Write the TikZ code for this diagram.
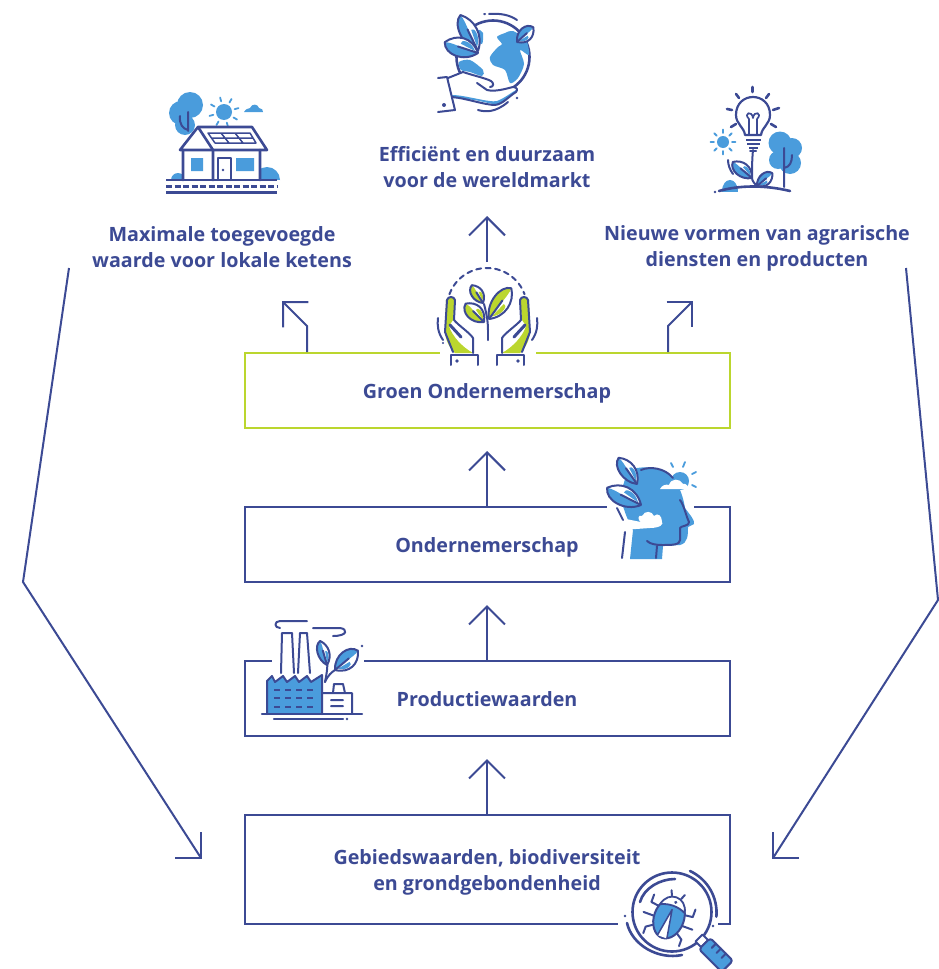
\documentclass[tikz,border=0pt]{standalone}
\usepackage{fontspec}
\setmainfont{Open Sans}
\usetikzlibrary{arrows.meta}
\definecolor{navy}{HTML}{3C4A94}
\definecolor{lime}{HTML}{BBD62E}
\definecolor{sky}{HTML}{4A9CDC}
\tikzset{
  box/.style={draw=navy,line width=2pt,minimum width=485pt,inner sep=0pt,fill=white},
  greenbox/.style={box,draw=lime},
  lab/.style={text=navy,font=\fontsize{19.7}{23}\selectfont\bfseries,align=center,inner sep=0pt},
  flow/.style={draw=navy,line width=2pt,-{Straight Barb[length=18pt,width=36pt,line width=2pt]}},
  long/.style={draw=navy,line width=2pt,line join=miter},
  ic/.style={draw=navy,line width=2pt,line cap=round,line join=round},
  icb/.style={draw=navy,line width=2.6pt,line cap=round,line join=round},
  ray/.style={draw=sky,line width=1.8pt,line cap=round},
  gap/.style={fill=white,draw=none}
}
% leaf: x y angle length halfwidth colour
\newcommand{\leafic}[6]{%
  \begin{scope}[shift={(#1,#2)},rotate=#3]
    \fill[white] (0,0) .. controls (.3*#4,1.35*#5) and (.75*#4,1.2*#5) .. (#4,0) .. controls (.9*#4,-1.2*#5) and (.3*#4,-1.35*#5) .. (0,0);
    \fill[#6] (0,0) .. controls (.25*#4,-.2*#5) and (.75*#4,.3*#5) .. (#4,0) .. controls (.9*#4,-1.2*#5) and (.3*#4,-1.35*#5) .. (0,0);
    \fill[#6] (.1*#4,.1*#5) .. controls (.3*#4,1.0*#5) and (.6*#4,.8*#5) .. (.55*#4,.35*#5) -- cycle;
    \draw[ic] (0,0) .. controls (.3*#4,1.35*#5) and (.75*#4,1.2*#5) .. (#4,0) .. controls (.9*#4,-1.2*#5) and (.3*#4,-1.35*#5) .. (0,0);
    \draw[ic] (.05*#4,0) -- (.6*#4,0);
  \end{scope}}
% rays: x y inner outer start step count
\newcommand{\raysic}[7]{%
  \foreach \i in {1,...,#7}{\draw[ray] ({#1+#3*cos(#5+#6*\i)},{#2+#3*sin(#5+#6*\i)}) -- ({#1+#4*cos(#5+#6*\i)},{#2+#4*sin(#5+#6*\i)});}}
\begin{document}
\begin{tikzpicture}[x=1pt,y=-1pt]
\useasboundingbox (0,0) rectangle (938,969);

% boxes
\node[greenbox,minimum height=75pt] (green) at (487.5,390.5) {};
\node[box,minimum height=75pt] (onder) at (487.5,544.5) {};
\node[box,minimum height=75pt] (prod) at (487.5,698.5) {};
\node[box,minimum height=109pt] (gebied) at (487.5,869.5) {};

\node[lab] (tgreen) at (487,393.5) {Groen Ondernemerschap};
\node[lab] (tonder) at (487,547) {Ondernemerschap};
\node[lab] (tprod) at (487,699.5) {Productiewaarden};
\node[lab] (tgeb) at (487,872) {Gebiedswaarden, biodiversiteit\\[3pt]en grondgebondenheid};
\node[lab] (tlocal) at (222,247.5) {Maximale toegevoegde\\[3pt]waarde voor lokale ketens};
\node[lab] (tworld) at (487,167) {Efficiënt en duurzaam\\[3pt]voor de wereldmarkt};
\node[lab] (tnew) at (757,248.5) {Nieuwe vormen van agrarische\\[3pt]diensten en producten};

% vertical flow arrows
\coordinate (a1) at (487,451);
\coordinate (a2) at (487,605);
\coordinate (a3) at (487,759);
\coordinate (a4) at (487,216);
\coordinate (a4s) at (487,262);
\draw[flow] (onder.north -| a1) -- (a1);
\draw[flow] (prod.north -| a2) -- (a2);
\draw[flow] (gebied.north -| a3) -- (a3);
\draw[flow] (a4s) -- (a4);

% corner arrows
\coordinate (cl0) at (307,352);
\coordinate (cl1) at (307,326);
\coordinate (cl2) at (282,301);
\coordinate (cr0) at (668,352);
\coordinate (cr1) at (668,326);
\coordinate (cr2) at (693,301);
\draw[flow] (cl0) -- (cl1) -- (cl2);
\draw[flow] (cr0) -- (cr1) -- (cr2);

% long feedback arrows
\coordinate (ll0) at (69,268);
\coordinate (ll1) at (23,582);
\coordinate (ll2) at (201,858);
\coordinate (lh1) at (175,858);
\coordinate (lh2) at (201,832);
\coordinate (rl0) at (906,268);
\coordinate (rl1) at (938,600);
\coordinate (rl2) at (773,858);
\coordinate (rh1) at (799,858);
\coordinate (rh2) at (773,832);
\draw[long] (ll0) -- (ll1) -- (ll2);
\draw[long] (lh1) -- (ll2) -- (lh2);
\draw[long] (rl0) -- (rl1) -- (rl2);
\draw[long] (rh1) -- (rl2) -- (rh2);

% gaps in the box borders
\fill[gap] (440,349) rectangle (536,357);
\fill[gap] (607,503) rectangle (694,511);
\fill[gap] (272,657) rectangle (364,665);
\fill[gap] (618,920) rectangle (718,928);

%%% House icon
\fill[sky] (190,105) circle (13) (181,113) circle (12) (185,125) circle (10);
\draw[ic] (188,112) -- (188,131) (180,116) .. controls (179,124) and (183,129) .. (188,130);
\fill[sky] (224,112) circle (8);
\raysic{224}{112}{11}{15}{-15}{45}{8}
\fill[sky] (244,112) .. controls (246,108) and (249,109) .. (250,108) .. controls (252,103) and (258,104) .. (259,108) .. controls (262,108) and (263,110) .. (263,112) -- cycle;
\fill[sky] (178,180) circle (7) (267,180) circle (13);
\fill[white] (165,180) rectangle (280,195);
\fill[white] (183,150) rectangle (260,180);
\fill[white] (180,150) -- (198,127) -- (252,127) -- (267,150) -- cycle;
\draw[icb] (180,150) -- (198,127) -- (252,127) -- (267,150) -- cycle;
\draw[icb] (198,127) -- (213,150) -- (213,180) (183,150) -- (183,180) (260,150) -- (260,180);
\fill[sky] (191,158) rectangle (203,171) (236,158) rectangle (254,171);
\draw[ic] (218,180) -- (218,158) -- (231,158) -- (231,180);
\fill[navy] (223,170) circle (1.4);
\draw[ic,line width=1.5pt] (208,133) -- (250,133) -- (256,143) -- (215,143) -- cycle (212,138) -- (253,138) (221,133) -- (229,143) (235,133) -- (243,143);
\draw[icb,line cap=butt] (166,180) -- (277,180) (166,192.5) -- (277,192.5);
\draw[icb,line cap=butt,dash pattern=on 6pt off 2.5pt] (166,186.5) -- (277,186.5);

%%% Globe icon
\draw[icb] (493,57) circle (36.5);
\fill[sky] plot[smooth cycle] coordinates {(497,37) (505,33) (513,31) (526,40) (529,55) (520,50) (524,64) (518,78) (510,83) (505,70) (493,65) (490,57) (498,47) (502,44)};
\fill[sky] plot[smooth cycle] coordinates {(459,62) (470,60) (483,70) (482,76) (470,72) (461,70)};
\fill[sky] plot[smooth cycle] coordinates {(478,30) (483,33) (482,44) (475,38)};
\leafic{478}{51}{116}{40}{9}{sky}
\leafic{478}{53}{162}{35}{10}{sky}
\leafic{517}{42}{42}{22}{7}{sky}
\draw[ic] (484,14) -- (485,14) (489,14) .. controls (500,13) and (510,15) .. (517,20);
\fill[white] (448,79) -- (463,72) -- (493,82) -- (497,91) -- (513,87) -- (517,92) -- (497,105) -- (475,100) -- (452,97) -- cycle;
\fill[sky] (452,95) .. controls (465,95) and (490,103) .. (497,101) .. controls (505,98) and (512,92) .. (516,90) -- (517,92) -- (497,105) -- (475,100) -- (453,98) -- cycle;
\draw[ic] (438,78) -- (447,77) -- (455,110) -- (438,112);
\fill[navy] (444,105) circle (2);
\draw[ic] (448,78) -- (463,72) .. controls (475,76) and (485,78) .. (491,81) .. controls (494,83) and (494,87) .. (490,87) (477,83) -- (487,90) .. controls (495,92) and (505,89) .. (513,87) .. controls (517,87) and (518,90) .. (516,92) .. controls (508,97) and (503,104) .. (495,105) .. controls (485,105) and (465,98) .. (452,97);
\draw[ic] (478,110) .. controls (485,112) and (495,113) .. (508,102);
\fill[navy] (517,98) circle (1.3);

%%% Bulb icon
\draw[icb,line width=2.2pt] (745,135) .. controls (744,127) and (736,124) .. (736,115) .. controls (736,91) and (770,91) .. (770,115) .. controls (770,124) and (762,127) .. (761,135) -- cycle;
\draw[ic,line width=1.7pt] (749,134) -- (749,119) (757,134) -- (757,119) (749,119) .. controls (743,113) and (752,110) .. (753,118) .. controls (754,110) and (763,113) .. (757,119);
\draw[ic,line cap=butt] (746,140) -- (761,140) (747,144) -- (760,144) (749,148) -- (758,148);
\draw[ic] (750,151) -- (756,151);
\draw[icb] (752.5,87) -- (752.5,92) (736,94) -- (739,98) (769,94) -- (766,98) (727,109) -- (732,110) (773,110) -- (779,108) (731,127) -- (736,124) (771,124) -- (776,127);
\fill[sky] (723,142) circle (6);
\raysic{723}{142}{9}{12.5}{0}{45}{8}
\fill[sky] (780,143) circle (11.5) (792,148) circle (10) (778,160) circle (9) (790,163) circle (11);
\fill[sky] (722,192) .. controls (722,176) and (738,176) .. (738,192) -- cycle;
\draw[ic] (784,148) -- (784,187) (792,155) .. controls (792,162) and (790,167) .. (784,168);
\draw[ic] (753,150) .. controls (752,160) and (752,170) .. (752,178) .. controls (752,181) and (755,184) .. (757,186);
\leafic{752}{178}{140}{25}{7}{sky}
\leafic{757}{186}{40}{20}{6}{sky}
\draw[ic] (728,160) .. controls (728,165) and (730,170) .. (733,174);
\draw[icb] (719,191) .. controls (740,185) and (765,185) .. (790,191);
\fill[navy] (715,192) circle (1.4);

%%% Hands and seedling icon
\draw[ic,dash pattern=on 5pt off 4.5pt] (449.4,294.3) arc[start angle=200,end angle=340,radius=40];
\foreach \t in {0,1}{
\begin{scope}[shift={(\t*975,0)},xscale=1-2*\t]
\fill[lime] (446,300) .. controls (448,296) and (454,296) .. (455,300) -- (453,320) -- (449,326) .. controls (452,336) and (462,347) .. (473,353) -- (455,353) .. controls (449,348) and (445,338) .. (445,332) -- cycle;
\draw[ic] (445,332) -- (447,300) .. controls (448,296) and (454,296) .. (455,300) -- (454,320);
\draw[ic] (445,332) -- (453,352);
\draw[ic] (454,320) .. controls (458,325) and (470,333) .. (473,338) -- (473,353);
\draw[ic,line width=3pt] (450,325) -- (461,337);
\draw[ic] (451,365) -- (451,355) -- (478,355) -- (478,365);
\fill[navy] (457,361) circle (1.8);
\draw[ic] (438,318) .. controls (437,325) and (438,333) .. (443,340);
\end{scope}}
\fill[navy] (443,343) circle (1.2);
\draw[ic,line width=2.4pt] (488,340) -- (488,330);
\draw[ic] (488,330) .. controls (488,320) and (486,312) .. (484,304);
\leafic{489}{319}{54}{38}{9}{lime}
\leafic{484}{322}{135}{26}{8}{lime}
\leafic{483}{303}{122}{21}{6}{lime}

%%% Head icon
\fill[sky] (628,470) .. controls (645,465) and (665,466) .. (676,482) .. controls (682,492) and (684,502) .. (685,508) .. controls (690,515) and (695,520) .. (694,524) -- (688,527) .. controls (688,535) and (688,543) .. (680,545) -- (663,546) -- (662,559) -- (630,559) -- (633,530) .. controls (628,522) and (622,505) .. (620,495) -- cycle;
\fill[white] (641,522) .. controls (637,520) and (638,514) .. (642,516) .. controls (645,510) and (652,511) .. (654,516) .. controls (658,512) and (662,516) .. (662,522) .. controls (664,524) and (660,528) .. (650,528) -- (622,530) -- (616,517) -- cycle;
\fill[sky] (680,481) circle (9);
\fill[white] (660,489) .. controls (662,485) and (666,484) .. (669,485) .. controls (671,478) and (680,478) .. (683,484) .. controls (686,483) and (688,486) .. (688,489) -- cycle;
\draw[ray] (671,463) -- (673,467) (685,462) -- (683,467) (692,474) -- (696,472) (692,485) -- (696,487);
\leafic{641}{505}{153}{38}{10}{sky}
\leafic{637}{484}{125}{32}{8}{sky}
\draw[ic] (641,470) .. controls (650,466) and (665,468) .. (673,478) (680,500) .. controls (684,505) and (686,516) .. (689,522) .. controls (690,526) and (680,526) .. (680,528) -- (680,540) .. controls (680,545) and (672,545) .. (662,545) .. controls (656,545) and (650,544) .. (647,541);
\draw[ic] (657,546) -- (656,558) (625,532) -- (622,558) (617,508) -- (623,520);

%%% Factory icon
\fill[sky] (267,714) -- (267,681) -- (272,676) -- (275,682) -- (283,676) -- (287,682) -- (295,676) -- (299,682) -- (307,676) -- (311,682) -- (322,675) -- (322,714) -- cycle;
\draw[ic] (322,714) -- (322,675) -- (311,682) -- (307,676) -- (299,682) -- (295,676) -- (287,682) -- (283,676) -- (275,682) -- (272,676) -- (267,681) -- (267,714);
\draw[ic] (281,673) -- (282,633) -- (292,633) -- (294,673) (298,673) -- (300,633) -- (307,633) -- (310,673);
\draw[ic] (307,621) -- (280,621) .. controls (274,621) and (274,628) .. (280,628) (313,628) -- (340,628) .. controls (348,629) and (348,636) .. (333,636);
\draw[ic,dash pattern=on 6pt off 5pt,line cap=butt] (274,690) -- (315,690) (274,698) -- (315,698) (274,707) -- (315,707);
\draw[ic,line width=2.4pt] (262,714) -- (362,714);
\draw[ic,line width=2.4pt] (274,719) -- (343,719);
\fill[navy] (347,719) circle (1.3) (362,646) circle (1.3);
\draw[ic] (323,693) -- (352,693) -- (352,713) (333,693) -- (334,684) -- (343,684) -- (345,693) (331,700) -- (343,700) (331,706) -- (343,706);
\draw[ic] (325,682) .. controls (327,672) and (328,665) .. (327,660);
\leafic{327}{665}{106}{25}{6}{sky}
\draw[ic] (325,682) .. controls (328,675) and (332,672) .. (335,670);
\leafic{335}{670}{40}{30}{9}{sky}

%%% Magnifier icon
\draw[icb] (672,912) circle (39.5);
\draw[icb] (690,871) arc[start angle=-65,end angle=5,radius=46];
\draw[icb] (627,923) .. controls (632,945) and (658,960) .. (682,955);
\draw[icb] (640,902) .. controls (644,888) and (660,879) .. (675,879);
\fill[navy] (625,916) circle (1.4) (713,926) circle (1.4);
\begin{scope}[shift={(669,918)},rotate=-20]
  \fill[sky] (0,0) ellipse (15 and 21);
  \draw[ic] (0,0) ellipse (15 and 21);
  \fill[white] (0,-7) -- (-5,20) -- (5,20) -- cycle;
  \draw[ic,line width=1.5pt] (0,-9) -- (-5,20) (0,-9) -- (5,20);
  \fill[white,draw=navy,line width=1.8pt] (-13,-10) .. controls (-10,-26) and (10,-26) .. (13,-10) .. controls (5,-14) and (-5,-14) .. (-13,-10);
  \fill[navy] (1,-17) circle (1.7);
  \draw[ic] (-14,-8) -- (-22,-9) -- (-22,-17) (14,-8) -- (22,-9) -- (22,-17) (-15,3) -- (-26,3) (15,3) -- (26,3) (-13,12) -- (-19,16) -- (-19,23) (13,12) -- (19,16) -- (19,23) (-5,-22) -- (-7,-27) (5,-22) -- (7,-27);
\end{scope}
\begin{scope}[shift={(699,938)},rotate=-45]
  \draw[ic,fill=white] (0,-5) rectangle (8,5);
  \fill[sky,rounded corners=3pt] (8,-8) rectangle (40,8);
  \draw[ic,rounded corners=3pt] (8,8) -- (8,-8) -- (40,-8) -- (40,8) -- cycle;
  \draw[ic] (16,-8) -- (16,-2) (23,-8) -- (23,-2) (30,-8) -- (30,-2);
\end{scope}
\end{tikzpicture}
\end{document}
